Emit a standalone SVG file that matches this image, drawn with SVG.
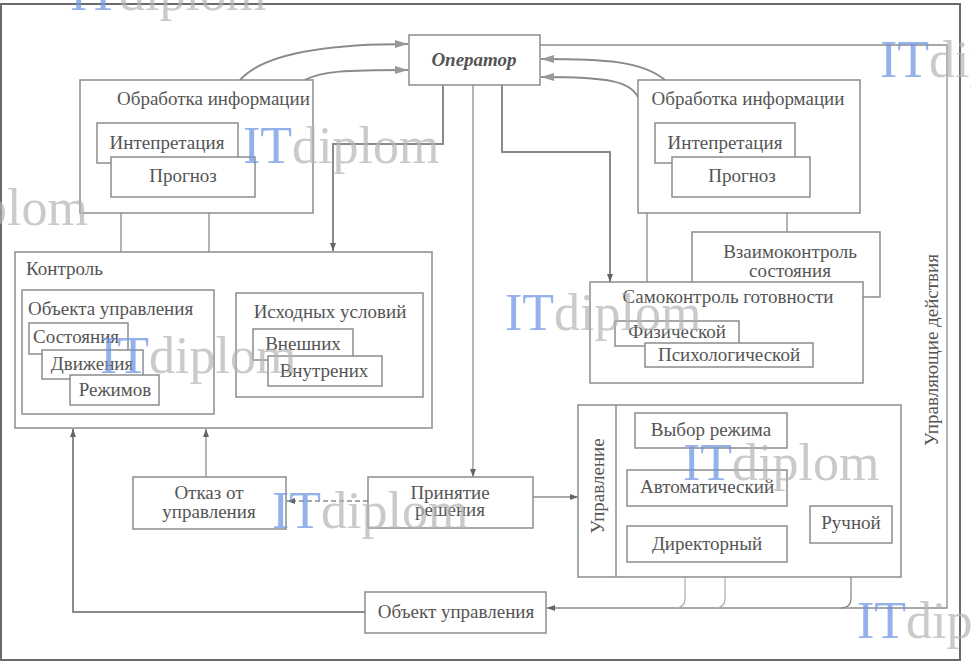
<svg xmlns="http://www.w3.org/2000/svg" width="971" height="663" viewBox="0 0 971 663">
<style>
.b{fill:#fff;stroke:#8c8c8c;stroke-width:1.5}
.t{font-family:"Liberation Serif","Times New Roman",serif;font-size:19px;fill:#555}
.m{text-anchor:middle}
.c{fill:none;stroke:#8a8a8a;stroke-width:2}
.n{fill:none;stroke:#8c8c8c;stroke-width:1.3}
.l{fill:none;stroke:#b0b0b0;stroke-width:1.2}
.w{font-family:"Liberation Serif","Times New Roman",serif;font-size:52px}
.wi{fill:#7097e2;fill-opacity:.75}
.wd{fill:#b4b4b4;fill-opacity:.7}
</style>
<defs>
<marker id="a" markerUnits="userSpaceOnUse" markerWidth="8" markerHeight="6" refX="8" refY="3" orient="auto"><path d="M0,0 L8,3 L0,6 z" fill="#666"/></marker>
<marker id="A" markerUnits="userSpaceOnUse" markerWidth="13" markerHeight="8" refX="13" refY="4" orient="auto"><path d="M0,0 L13,4 L0,8 z" fill="#999"/></marker>
</defs>
<rect x="0" y="0" width="971" height="663" fill="#fff"/>
<rect x="1" y="4" width="959" height="656" fill="none" stroke="#6a6a6a" stroke-width="2"/>

<g id="connectors">
<path class="c" d="M240,80 C262,55 320,44 408,44" marker-end="url(#A)"/>
<path class="c" d="M305,80 C322,71 345,70 408,70" marker-end="url(#A)"/>
<path class="c" d="M665,80 C642,61 605,59 541,59" marker-end="url(#A)"/>
<path class="c" d="M638,97 C630,82 612,77 541,77" marker-end="url(#A)"/>
<path class="c" d="M443,85 V144 H333 V251" marker-end="url(#a)"/>
<path class="n" d="M473,85 V477" marker-end="url(#a)"/>
<path class="c" d="M502,85 V152 H610 V282" marker-end="url(#a)"/>
<path class="n" d="M540,45 H947 V608 H547" marker-end="url(#a)"/>
<path class="n" d="M121,213 V252 M209,213 V252"/>
<path class="n" d="M647,213 V282 M787,213 V232"/>
<path class="n" d="M206,477 V429" marker-end="url(#a)"/>
<path class="c" d="M365,612 H73 V429" marker-end="url(#a)"/>
<path class="n" d="M368,501 H287" stroke-dasharray="5 3" marker-end="url(#a)"/>
<path class="n" d="M533,497 H578" marker-end="url(#a)"/>
<path class="n" d="M687,448 V470" marker-end="url(#a)"/>
<path class="n" d="M727,506 V526" marker-end="url(#a)"/>
<path class="n" d="M787,428 H852 V506" marker-end="url(#a)"/>
<path class="n" d="M851,543 V598 Q851,608 841,608"/>
<path class="l" d="M685,577 V598 Q685,608 675,608 M725,577 V598 Q725,608 715,608"/>
</g>

<g id="operator">
<rect class="b" x="409" y="35" width="131" height="50"/>
<text class="t m" x="474" y="66" font-weight="bold" font-style="italic" font-size="18">Оператор</text>
</g>

<g id="info-left">
<rect class="b" x="80" y="80" width="233" height="133"/>
<text class="t" x="117" y="105">Обработка информации</text>
<g id="interp-left"><rect class="b" x="97" y="123" width="141" height="40"/><text class="t m" x="167" y="149">Интепретация</text></g>
<g id="prog-left"><rect class="b" x="111" y="157" width="144" height="40"/><text class="t m" x="183" y="182">Прогноз</text></g>
</g>

<g id="info-right">
<rect class="b" x="638" y="80" width="222" height="133"/>
<text class="t m" x="748" y="105">Обработка информации</text>
<g id="interp-right"><rect class="b" x="655" y="123" width="140" height="40"/><text class="t m" x="725" y="149">Интепретация</text></g>
<g id="prog-right"><rect class="b" x="672" y="157" width="138" height="40"/><text class="t m" x="742" y="182">Прогноз</text></g>
</g>

<g id="control">
<rect class="b" x="15" y="252" width="417" height="176"/>
<text class="t" x="26" y="275">Контроль</text>
<g id="object-ctrl">
<rect class="b" x="22" y="290" width="192" height="124"/>
<text class="t" x="28" y="315">Объекта управления</text>
<g id="state"><rect class="b" x="29" y="323" width="99" height="31"/><text class="t" x="33" y="343">Состояния</text></g>
<g id="motion"><rect class="b" x="42" y="350" width="101" height="29"/><text class="t m" x="92" y="370">Движения</text></g>
<g id="modes"><rect class="b" x="70" y="375" width="89" height="30"/><text class="t m" x="115" y="396">Режимов</text></g>
</g>
<g id="initial">
<rect class="b" x="236" y="293" width="187" height="104"/>
<text class="t m" x="330" y="318">Исходных условий</text>
<g id="external"><rect class="b" x="253" y="329" width="100" height="31"/><text class="t m" x="303" y="350">Внешних</text></g>
<g id="internal"><rect class="b" x="268" y="356" width="114" height="30"/><text class="t m" x="324" y="377">Внутрених</text></g>
</g>
</g>

<g id="mutual">
<rect class="b" x="692" y="232" width="188" height="65"/>
<text class="t m" x="790" y="258">Взаимоконтроль</text>
<text class="t m" x="790" y="277">состояния</text>
</g>

<g id="self">
<rect class="b" x="590" y="282" width="273" height="101"/>
<text class="t m" x="728" y="303">Самоконтроль готовности</text>
<g id="phys"><rect class="b" x="615" y="321" width="124" height="25"/><text class="t m" x="677" y="338">Физической</text></g>
<g id="psych"><rect class="b" x="645" y="343" width="168" height="24"/><text class="t m" x="729" y="361">Психологической</text></g>
</g>

<g id="decision">
<rect class="b" x="368" y="477" width="165" height="51"/>
<text class="t m" x="450" y="499">Принятие</text>
<text class="t m" x="450" y="516">решения</text>
</g>

<g id="refuse">
<rect class="b" x="133" y="477" width="153" height="52"/>
<text class="t m" x="209" y="499">Отказ от</text>
<text class="t m" x="209" y="518">управления</text>
</g>

<g id="object">
<rect class="b" x="365" y="592" width="181" height="41"/>
<text class="t m" x="456" y="618">Объект управления</text>
</g>

<g id="management">
<rect class="b" x="578" y="405" width="323" height="172"/>
<line x1="616" y1="405" x2="616" y2="577" stroke="#8c8c8c" stroke-width="1.5"/>
<text class="t m" transform="translate(604,486) rotate(-90)">Управление</text>
<g id="mode-select"><rect class="b" x="635" y="413" width="152" height="35"/><text class="t m" x="711" y="436">Выбор режима</text></g>
<g id="auto"><rect class="b" x="627" y="470" width="160" height="36"/><text class="t m" x="707" y="493">Автоматический</text></g>
<g id="director"><rect class="b" x="627" y="526" width="160" height="36"/><text class="t m" x="707" y="550">Директорный</text></g>
<g id="manual"><rect class="b" x="810" y="506" width="82" height="37"/><text class="t m" x="851" y="529">Ручной</text></g>
</g>

<text class="t m" transform="translate(938,350) rotate(-90)">Управляющие действия</text>

<g id="watermarks" class="w">
<text x="70" y="10"><tspan class="wi">IT</tspan><tspan class="wd">diplom</tspan></text>
<text x="243" y="163"><tspan class="wi">IT</tspan><tspan class="wd">diplom</tspan></text>
<text x="88" y="225" text-anchor="end"><tspan class="wi">IT</tspan><tspan class="wd">diplom</tspan></text>
<text x="100" y="373"><tspan class="wi">IT</tspan><tspan class="wd">diplom</tspan></text>
<text x="505" y="330"><tspan class="wi">IT</tspan><tspan class="wd">diplom</tspan></text>
<text x="683" y="480"><tspan class="wi">IT</tspan><tspan class="wd">diplom</tspan></text>
<text x="272" y="528"><tspan class="wi">IT</tspan><tspan class="wd">diplom</tspan></text>
<text x="857" y="638"><tspan class="wi">IT</tspan><tspan class="wd">diplom</tspan></text>
<text x="880" y="77"><tspan class="wi">IT</tspan><tspan class="wd">diplom</tspan></text>
</g>
</svg>
